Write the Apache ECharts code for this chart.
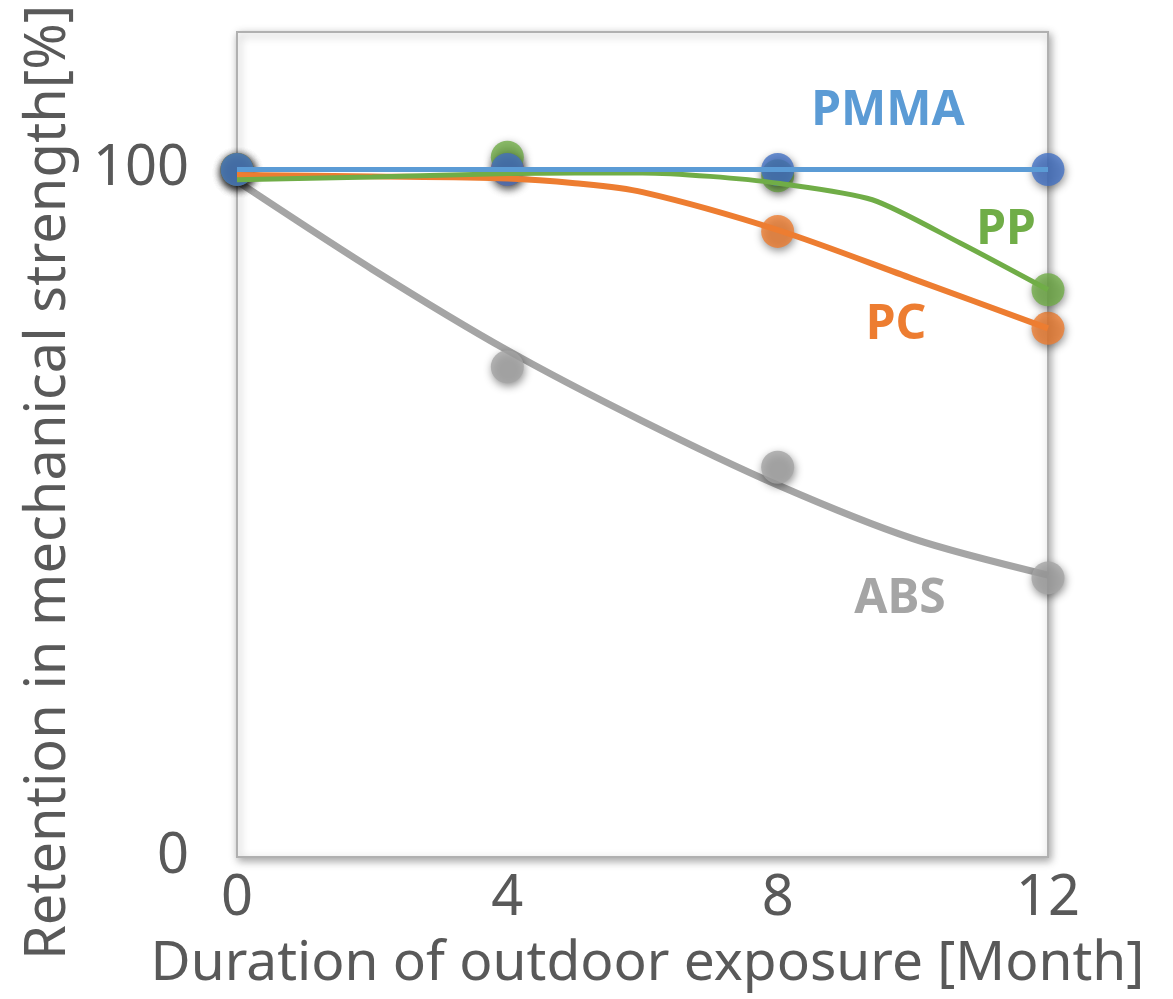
<!DOCTYPE html>
<html><head><meta charset="utf-8">
<script src="https://cdn.jsdelivr.net/npm/echarts@6/dist/echarts.min.js"></script>
<style>html,body{margin:0;padding:0;background:#fff}#c{width:1173px;height:999px}</style>
</head><body><div id="c"></div>
<script>
// ---- data ----
const months = [0, 4, 8, 12];
const xTickValues = [0, 4, 8, 12];
const yTickLabels = [0, 100];
const seriesNames = ['ABS', 'PC', 'PP', 'PMMA'];
const absPoints  = [100, 71.3, 56.7, 40.6];
const pcPoints   = [100, 100, 91.0, 76.9];
const ppPoints   = [100, 101.8, 99.1, 82.5];
const pmmaPoints = [100, 100, 100, 100];
// trend curves: [month, value]
const absTrend  = [[0,98.3],[2,85.5],[4,73.7],[6,63.4],[8,54.1],[10,46.3],[12,41.0]];
const pcTrend   = [[0,99.2],[2,99.0],[4,98.7],[5,98.0],[6,96.7],[8,91.2],[10,84.1],[12,76.9]];
const ppTrend   = [[0,98.5],[2,98.9],[4,99.4],[6,99.5],[7,99.0],[8,98.0],[9.4,95.6],[10.7,89.3],[12,82.5]];
const pmmaTrend = [[0,100],[12,100]];

const colors = { ABS: '#A5A5A5', PC: '#ED7D31', PP: '#70AD47', PMMA: '#5B9BD5' };
const markerColors = { ABS: '#A5A5A5', PC: '#ED7D31', PP: '#70AD47', PMMA: '#4472C4' };
const pointsBy = { ABS: absPoints, PC: pcPoints, PP: ppPoints, PMMA: pmmaPoints };
const trendBy = { ABS: absTrend, PC: pcTrend, PP: ppTrend, PMMA: pmmaTrend };
const widthBy = { ABS: 7, PC: 6, PP: 5, PMMA: 5 };
const smoothBy = { ABS: 0.3, PC: 0.3, PP: 0.25, PMMA: false };

const textColor = '#595959';
const fontFamily = '"Noto Sans", "DejaVu Sans", sans-serif';

const series = [];
seriesNames.forEach(function (n) {
  series.push({
    name: n + ' points', type: 'scatter', z: 2,
    symbol: 'circle', symbolSize: 33,
    itemStyle: { color: markerColors[n], shadowBlur: 8, shadowColor: 'rgba(0,0,0,0.55)', shadowOffsetX: 1, shadowOffsetY: 3 },
    data: months.map(function (m, i) { return [m, pointsBy[n][i]]; })
  });
});
seriesNames.forEach(function (n) {
  series.push({
    name: n, type: 'line', z: n === 'ABS' ? 1 : 3,
    smooth: smoothBy[n],
    showSymbol: false, symbol: 'none',
    lineStyle: { color: colors[n], width: widthBy[n] },
    data: trendBy[n]
  });
});

const labelPos = [
  { text: 'PMMA', x: 888, y: 111 },
  { text: 'PP', x: 1006, y: 230 },
  { text: 'PC', x: 896, y: 325 },
  { text: 'ABS', x: 900, y: 599 }
];

const chart = echarts.init(document.getElementById('c'));
chart.setOption({
  animation: false,
  backgroundColor: '#ffffff',
  grid: {
    left: 237, top: 32, right: 125, bottom: 142,
    outerBoundsMode: 'none', containLabel: false,
    show: true, backgroundColor: '#ffffff',
    borderColor: '#b0b0b0', borderWidth: 2,
    shadowBlur: 8, shadowColor: 'rgba(0,0,0,0.35)', shadowOffsetX: 2, shadowOffsetY: 3
  },
  xAxis: {
    type: 'value', min: 0, max: 12, interval: 4,
    name: 'Duration of outdoor exposure [Month]',
    nameLocation: 'middle', nameGap: 80,
    nameTextStyle: { fontSize: 55, color: textColor, fontFamily: fontFamily, padding: [0, 0, 0, 10] },
    axisLine: { show: false }, axisTick: { show: false }, splitLine: { show: false },
    axisLabel: { fontSize: 56, color: textColor, fontFamily: fontFamily, margin: 14,
      formatter: function (v) { return xTickValues.indexOf(v) >= 0 ? String(v) : ''; } }
  },
  yAxis: {
    type: 'value', min: 0, max: 120, interval: 100,
    name: 'Retention in mechanical strength[%]',
    nameLocation: 'middle', nameGap: 160,
    nameTextStyle: { fontSize: 56, color: textColor, fontFamily: fontFamily, padding: [0, 76, 0, 0] },
    axisLine: { show: false }, axisTick: { show: false }, splitLine: { show: false },
    axisLabel: { fontSize: 56, color: textColor, fontFamily: fontFamily, margin: 48,
      formatter: function (v) { return yTickLabels.indexOf(v) >= 0 ? String(v) : ''; } }
  },
  series: series,
  graphic: labelPos.map(function (l) {
    return { type: 'text', x: l.x, y: l.y, z: 10,
      style: { text: l.text, fill: colors[l.text], font: 'bold 48px ' + fontFamily,
        textAlign: 'center', textVerticalAlign: 'middle' } };
  })
});
</script></body></html>
